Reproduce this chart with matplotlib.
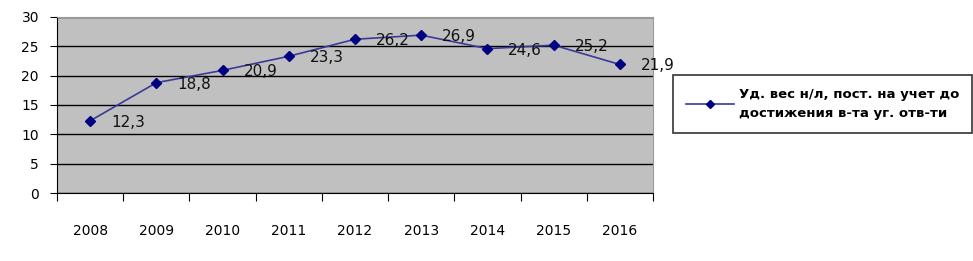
import numpy as np
import matplotlib
matplotlib.use('Agg')
import matplotlib.pyplot as plt

years  = ['2008', '2009', '2010', '2011', '2012', '2013', '2014', '2015', '2016']
values = [12.3, 18.8, 20.9, 23.3, 26.2, 26.9, 24.6, 25.2, 21.9]
labels = ['12,3', '18,8', '20,9', '23,3', '26,2', '26,9', '24,6', '25,2', '21,9']
series_name = 'Уд. вес н/л, пост. на учет до\nдостижения в-та уг. отв-ти'

plt.rcParams['font.family'] = ['DejaVu Sans']

fig = plt.figure(figsize=(9.73, 2.61), dpi=100)
ax = fig.add_axes([0.0586, 0.2605, 0.6125, 0.6745])
ax.set_facecolor('#c0c0c0')

x = np.arange(len(years))
line, = ax.plot(x, values, color='#3a3a9a', lw=1.2, marker='D', ms=5,
                mfc='#000080', mec='#000080', label=series_name)
for xi, v, t in zip(x, values, labels):
    ax.annotate(t, (xi, v), xytext=(15, -1), textcoords='offset points',
                ha='left', va='center', fontsize=11, color='#111111')

ax.set_xlim(-0.5, len(years) - 0.5)
ax.set_ylim(0, 30)
ax.set_yticks(range(0, 31, 5))
ax.yaxis.grid(True, color='black', lw=1)
ax.set_axisbelow(True)

# ticks at category boundaries, labels in the middle
ax.set_xticks(np.arange(len(years) + 1) - 0.5)
ax.set_xticklabels([])
ax.set_xticks(x, minor=True)
ax.set_xticklabels(years, minor=True, fontsize=10)
ax.tick_params(axis='x', which='major', direction='out', length=6, color='black')
ax.tick_params(axis='x', which='minor', length=0, pad=22)
ax.tick_params(axis='y', direction='out', length=5, labelsize=10, pad=8)

for s in ['top', 'right']:
    ax.spines[s].set_color('#999999')
ax.spines['left'].set_color('black')
ax.spines['bottom'].set_color('black')

leg = fig.legend(handles=[line], loc='upper left', bbox_to_anchor=(0.6915, 0.713),
                 frameon=True, fancybox=False, edgecolor='black', fontsize=9.5,
                 handlelength=3.6, handletextpad=0.4, borderpad=1.0,
                 borderaxespad=0, markerscale=0.8)
leg.get_frame().set_linewidth(1.2)
for t in leg.get_texts():
    t.set_fontweight('bold')
    t.set_linespacing(1.6)

fig.savefig('out.png', dpi=100)
